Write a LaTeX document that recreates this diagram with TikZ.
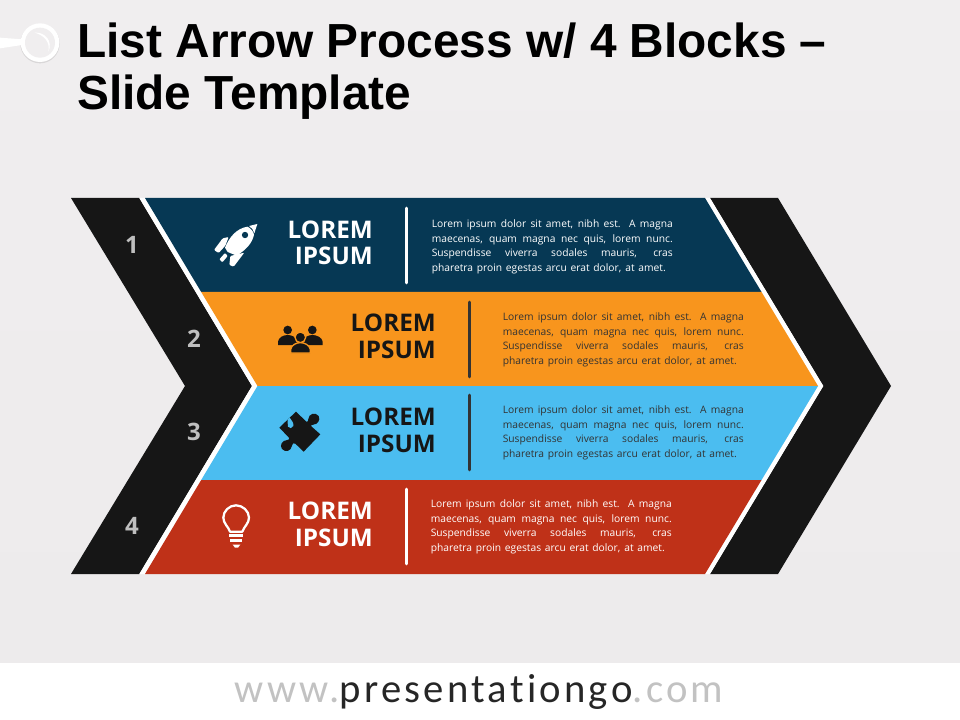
\documentclass[tikz,border=0pt]{standalone}
\usepackage{fontspec}
\setmainfont{Open Sans}
\newfontfamily\titlefont{Liberation Sans}
\newfontfamily\sitefont[LetterSpace=8.0,Ligatures=NoCommon]{Carlito}
\definecolor{navy}{HTML}{063854}
\definecolor{orng}{HTML}{F8951D}
\definecolor{sky}{HTML}{4BBDF0}
\definecolor{brick}{HTML}{BF3118}
\definecolor{ink}{HTML}{161616}
\definecolor{numgray}{HTML}{BFBFBF}
\definecolor{bodydark}{HTML}{333333}
\definecolor{sitegray}{HTML}{C2C2C2}
\definecolor{sitedark}{HTML}{262626}
\definecolor{bgtop}{HTML}{F0EEEF}
\definecolor{bgbottom}{HTML}{EDEBEC}
\definecolor{pingray}{HTML}{D9D7D8}
\newcommand\fpx[2]{\fontsize{#1}{#2}\selectfont}
\newcommand\loremlines{%
  \parbox[t]{180.75pt}{\fpx{7.7}{10.9}%
  \hbox to 180.75pt{Lorem ipsum dolor sit amet, nibh est. A magna}%
  \hbox to 180.75pt{maecenas, quam magna nec quis, lorem nunc.}%
  \hbox to 180.75pt{Suspendisse viverra sodales mauris, cras}%
  \hbox to 175.5pt{pharetra proin egestas arcu erat dolor, at amet.}}}
\tikzset{
  band/.style={draw=none},
  headtext/.style={anchor=base east,inner sep=0pt,align=right,font=\bfseries\fpx{18.2}{20.2}},
  paratext/.style={anchor=base west,inner sep=0pt},
  numtext/.style={inner sep=0pt,text=numgray,font=\bfseries\fpx{18}{20}},
  titletext/.style={anchor=base west,inner sep=0pt,font=\titlefont\bfseries\fpx{35.86}{39}},
  divider/.style={line width=2pt,line cap=round},
}
\begin{document}
\begin{tikzpicture}[x=0.75pt,y=-0.75pt]
\useasboundingbox (0,0) rectangle (960,720);
% background
\fill[white] (0,0) rectangle (960,720);
\fill[top color=bgtop, bottom color=bgbottom] (0,0) rectangle (960,662);
% pin
\begin{scope}[shift={(0,0)},x=0.25pt,y=-0.25pt]
  \fill[pingray] (120,131) circle (59);
  \fill[white] (0,113) -- (66,118) -- (66,135) -- (0,145) -- cycle;
  \fill[white] (120,128) circle (58);
  \fill[bgtop] (120,128) circle (45);
  \fill[white] (104,98) .. controls (135,95) and (160,125) .. (145,155) .. controls (152,125) and (130,105) .. (104,98) -- cycle;
\end{scope}
% title
\node[titletext] (title1) at (77,58) {List Arrow Process w/ 4 Blocks –};
\node[titletext] (title2) at (77,110) {Slide Template};
% black chevrons
\fill[ink] (71,198) -- (139.3,198) -- (252,386) -- (139.3,574) -- (71,574) -- (185,386) -- cycle;
\fill[ink] (710,198) -- (778,198) -- (891,386) -- (778,574) -- (710,574) -- (823.3,386) -- cycle;
% white strips
\fill[white] (139.3,198) -- (145,198) -- (257.5,386) -- (145,574) -- (139.3,574) -- (252,386) -- cycle;
\fill[white] (705,198) -- (710,198) -- (823.3,386) -- (710,574) -- (705,574) -- (818,386) -- cycle;
% bands
\fill[band,navy] (145,198) -- (705,198) -- (761.5,292) -- (201.2,292) -- cycle;
\fill[band,orng] (201.2,292) -- (761.5,292) -- (818,386) -- (257.5,386) -- cycle;
\fill[band,sky] (257.5,386) -- (818,386) -- (761.5,480) -- (201.2,480) -- cycle;
\fill[band,brick] (201.2,480) -- (761.5,480) -- (705,574) -- (145,574) -- cycle;
% numbers
\node[numtext] (n1) at (132,245) {1};
\node[numtext] (n2) at (194,339) {2};
\node[numtext] (n3) at (194,432) {3};
\node[numtext] (n4) at (132,526) {4};
% headings
\node[headtext,text=white] (h1) at (373,265) {LOREM\\IPSUM};
\node[headtext,text=ink] (h2) at (436,358) {LOREM\\IPSUM};
\node[headtext,text=ink] (h3) at (436,452) {LOREM\\IPSUM};
\node[headtext,text=white] (h4) at (373,546) {LOREM\\IPSUM};
% dividers
\draw[divider,white] (406.5,208) -- (406.5,283);
\draw[divider,bodydark] (469.5,302) -- (469.5,377);
\draw[divider,bodydark] (469.5,395) -- (469.5,470);
\draw[divider,white] (406.5,489) -- (406.5,564);
% paragraphs
\node[paratext,text=white] (p1) at (431.5,227.5) {\loremlines};
\node[paratext,text=bodydark] (p2) at (502.5,320.5) {\loremlines};
\node[paratext,text=bodydark] (p3) at (502.5,413.5) {\loremlines};
\node[paratext,text=white] (p4) at (430.5,507.5) {\loremlines};
% rocket
\begin{scope}[shift={(190,200)},x=0.25pt,y=-0.25pt]
  \fill[white] (172,80) .. controls (138,86) and (118,112) .. (105,143) -- (113,156) -- (140,167) .. controls (167,150) and (187,130) .. (192,104) .. controls (190,94) and (182,84) .. (172,80) -- cycle;
  \fill[navy] (165,105) circle (9.5);
  \fill[white] (177,78) -- (202,72) -- (193,100) .. controls (190,90) and (186,83) .. (177,78) -- cycle;
  \fill[white,rounded corners=0.8pt] (72,150) -- (98,115) -- (116,111) -- (106,137) -- (86,159) -- cycle;
  \fill[white,rounded corners=0.8pt] (163,158) -- (131,200) -- (118,195) -- (121,168) -- cycle;
  \fill[white,rounded corners=0.6pt] (105,159) -- (113,168) -- (97,187) -- (88,178) -- cycle;
  % people
  \fill[ink] (293,390) circle (13);
  \fill[ink] (367,390) circle (13);
  \fill[ink] (264,435) -- (264,425) .. controls (266,412) and (280,405) .. (293,405) .. controls (306,405) and (320,412) .. (322,425) -- (322,435) -- cycle;
  \fill[ink] (340,435) -- (340,425) .. controls (342,412) and (354,405) .. (367,405) .. controls (380,405) and (396,412) .. (398,425) -- (398,435) -- cycle;
  \filldraw[ink,draw=orng,line width=1pt] (331,412) circle (16);
  \filldraw[ink,draw=orng,line width=1pt] (302,459) -- (302,448) .. controls (305,435) and (318,428) .. (331,428) .. controls (344,428) and (358,435) .. (361,448) -- (361,459) -- cycle;
\end{scope}
% puzzle
\begin{scope}[shift={(272,405)},x=0.25pt,y=-0.25pt]
  \fill[ink] (22,68) -- (72,20) -- (103,50) .. controls (107,52) and (109,48) .. (109,42)
    .. controls (110,26) and (130,20) .. (140,33) .. controls (146,46) and (137,58) .. (124,59)
    .. controls (118,60) and (115,61) .. (118,64) -- (145,88) -- (95,140) -- (70,116)
    .. controls (64,112) and (61,116) .. (60,122) .. controls (58,138) and (40,144) .. (30,132)
    .. controls (22,120) and (30,106) .. (46,105) .. controls (52,104) and (54,102) .. (50,97) -- cycle;
  \fill[sky] (47,44) -- (53,38) .. controls (57,45) and (66,52) .. (64,63) .. controls (61,71) and (52,71) .. (48,65) .. controls (45,58) and (49,52) .. (47,44) -- cycle;
\end{scope}
% bulb
\begin{scope}[shift={(190,385)},x=0.25pt,y=-0.25pt]
  \draw[white,line width=1.7pt,line join=round] (120,440) .. controls (115,425) and (100,415) .. (100,398) .. controls (100,378) and (118,361) .. (138,361) .. controls (158,361) and (177,378) .. (177,398) .. controls (177,415) and (162,425) .. (157,440) -- cycle;
  \draw[white,line width=2pt] (118,451) -- (159,451);
  \draw[white,line width=2pt] (120,466) -- (157,466);
  \fill[white] (128,479) -- (151,479) -- (144,488) -- (135,488) -- cycle;
\end{scope}
% footer
\node[anchor=base,inner sep=0pt,font=\sitefont\fpx{30.5}{32}] (site) at (479,702) {\textcolor{sitegray}{www.}\textcolor{sitedark}{presentationgo}\textcolor{sitegray}{.com}};
\end{tikzpicture}
\end{document}
